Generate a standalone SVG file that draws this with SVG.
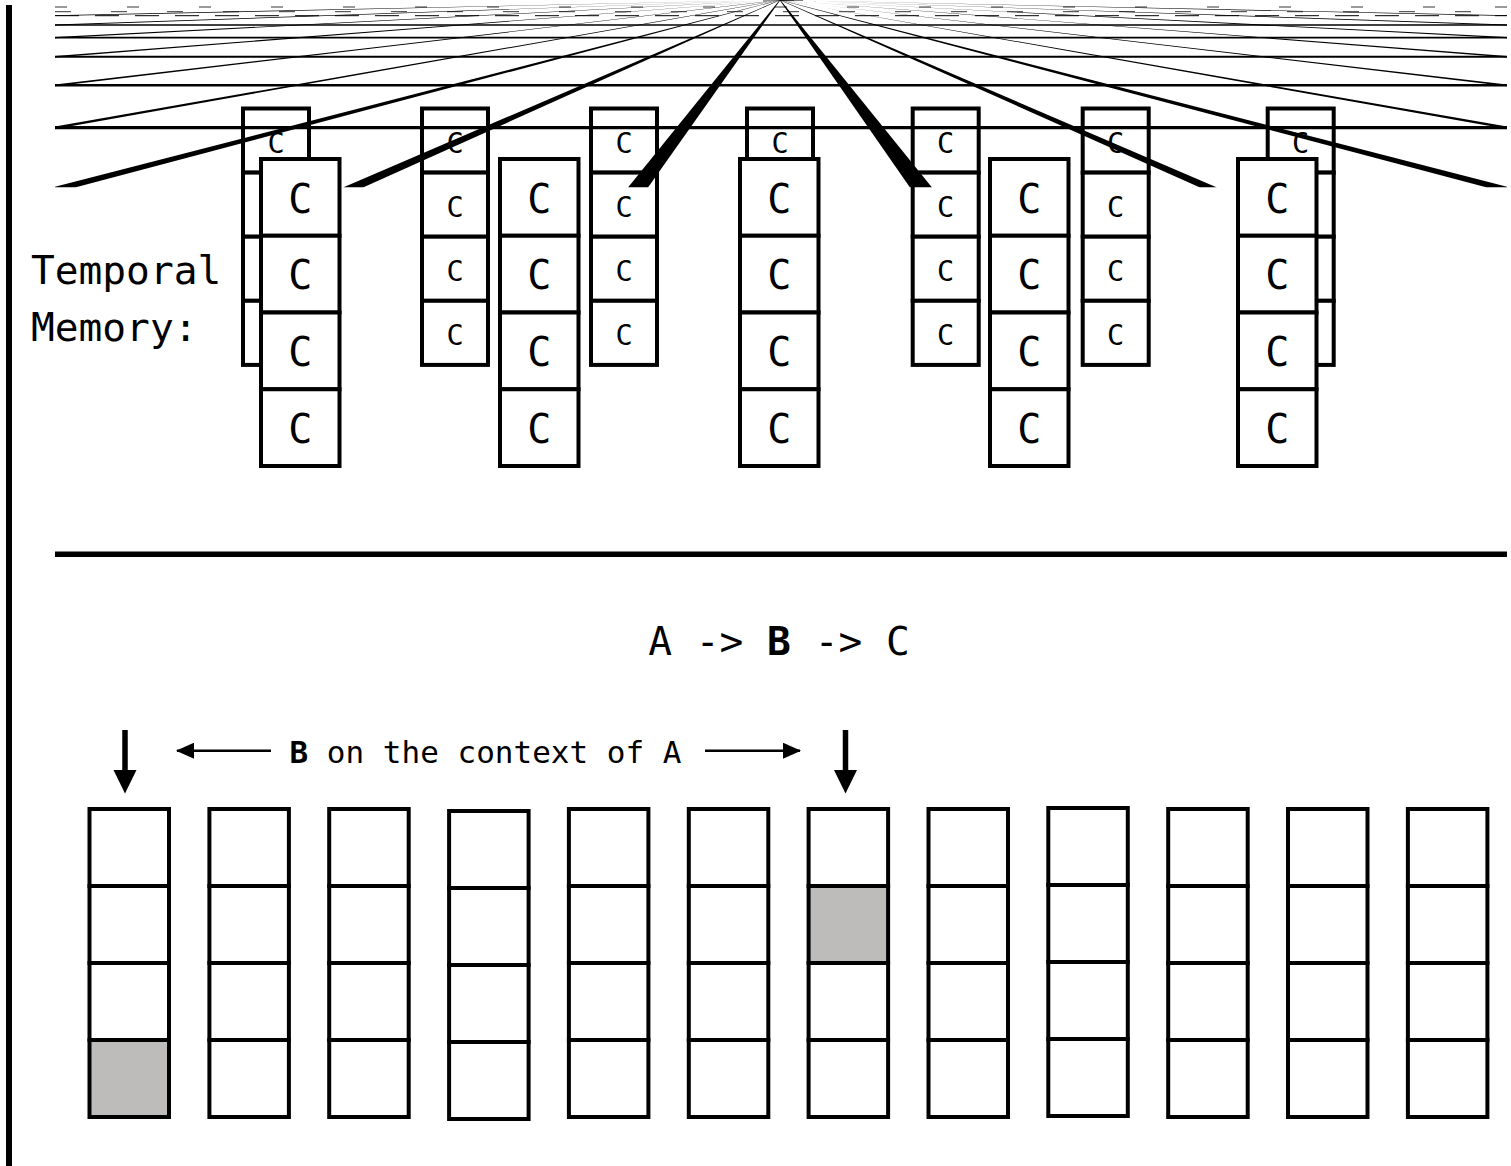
<svg xmlns="http://www.w3.org/2000/svg" width="1511" height="1166" viewBox="0 0 1511 1166">
<style>
.cell{fill:#fff;stroke:#000;stroke-width:4}
.on{fill:#bdbcba}
.t{font-family:"DejaVu Sans Mono","Liberation Mono",monospace;fill:#000}
.big{font-size:39.5px}
.mid{font-size:31px}
.cb{font-size:28.5px;text-anchor:middle}
.cf{font-size:40px;text-anchor:middle}
.hz{stroke:#000;fill:none}
.wedge{fill:#000;stroke:none}
.conn{stroke:#000;fill:none}
</style>
<defs>
<clipPath id="gridclip"><rect x="55" y="0" width="1452" height="187.5"/></clipPath>
<marker id="ah" viewBox="0 0 18 16" refX="17" refY="8" markerWidth="18" markerHeight="16" markerUnits="userSpaceOnUse" orient="auto"><path d="M0,0 L18,8 L0,16 z" fill="#000"/></marker>
</defs>
<rect width="1511" height="1166" fill="#fff"/>
<rect id="left-bar" x="6" y="5" width="6" height="1161" fill="#000"/>

<!-- back row of columns -->
<g id="back-col-1"><rect class="cell" x="243" y="108.5" width="66" height="64.1"/><rect class="cell" x="243" y="172.6" width="66" height="64.1"/><rect class="cell" x="243" y="236.7" width="66" height="64.1"/><rect class="cell" x="243" y="300.8" width="66" height="64.1"/>
<text class="t cb" x="276" y="152.5">C</text><text class="t cb" x="276" y="216.6">C</text><text class="t cb" x="276" y="280.7">C</text><text class="t cb" x="276" y="344.8">C</text></g>
<g id="back-col-2"><rect class="cell" x="422" y="108.5" width="66" height="64.1"/><rect class="cell" x="422" y="172.6" width="66" height="64.1"/><rect class="cell" x="422" y="236.7" width="66" height="64.1"/><rect class="cell" x="422" y="300.8" width="66" height="64.1"/>
<text class="t cb" x="455" y="152.5">C</text><text class="t cb" x="455" y="216.6">C</text><text class="t cb" x="455" y="280.7">C</text><text class="t cb" x="455" y="344.8">C</text></g>
<g id="back-col-3"><rect class="cell" x="591" y="108.5" width="66" height="64.1"/><rect class="cell" x="591" y="172.6" width="66" height="64.1"/><rect class="cell" x="591" y="236.7" width="66" height="64.1"/><rect class="cell" x="591" y="300.8" width="66" height="64.1"/>
<text class="t cb" x="624" y="152.5">C</text><text class="t cb" x="624" y="216.6">C</text><text class="t cb" x="624" y="280.7">C</text><text class="t cb" x="624" y="344.8">C</text></g>
<g id="back-col-4"><rect class="cell" x="747" y="108.5" width="66" height="64.1"/><rect class="cell" x="747" y="172.6" width="66" height="64.1"/><rect class="cell" x="747" y="236.7" width="66" height="64.1"/><rect class="cell" x="747" y="300.8" width="66" height="64.1"/>
<text class="t cb" x="780" y="152.5">C</text></g>
<g id="back-col-5"><rect class="cell" x="912.7" y="108.5" width="66" height="64.1"/><rect class="cell" x="912.7" y="172.6" width="66" height="64.1"/><rect class="cell" x="912.7" y="236.7" width="66" height="64.1"/><rect class="cell" x="912.7" y="300.8" width="66" height="64.1"/>
<text class="t cb" x="945.7" y="152.5">C</text><text class="t cb" x="945.7" y="216.6">C</text><text class="t cb" x="945.7" y="280.7">C</text><text class="t cb" x="945.7" y="344.8">C</text></g>
<g id="back-col-6"><rect class="cell" x="1082.7" y="108.5" width="66" height="64.1"/><rect class="cell" x="1082.7" y="172.6" width="66" height="64.1"/><rect class="cell" x="1082.7" y="236.7" width="66" height="64.1"/><rect class="cell" x="1082.7" y="300.8" width="66" height="64.1"/>
<text class="t cb" x="1115.7" y="152.5">C</text><text class="t cb" x="1115.7" y="216.6">C</text><text class="t cb" x="1115.7" y="280.7">C</text><text class="t cb" x="1115.7" y="344.8">C</text></g>
<g id="back-col-7"><rect class="cell" x="1267.7" y="108.5" width="66" height="64.1"/><rect class="cell" x="1267.7" y="172.6" width="66" height="64.1"/><rect class="cell" x="1267.7" y="236.7" width="66" height="64.1"/><rect class="cell" x="1267.7" y="300.8" width="66" height="64.1"/>
<text class="t cb" x="1300.7" y="152.5">C</text></g>

<!-- perspective grid -->
<g id="grid" clip-path="url(#gridclip)">
<line class="hz" x1="55" y1="7" x2="1507" y2="7" stroke="#e2e2e2" stroke-width="0.8" stroke-dasharray="12 60"/>
<line class="hz" x1="55" y1="11.7" x2="1507" y2="11.7" stroke="#cfcfcf" stroke-width="0.8" stroke-dasharray="16 40"/>
<line class="hz" x1="55" y1="15.7" x2="1507" y2="15.7" stroke="#8a8a8a" stroke-width="1" stroke-dasharray="24 16"/>
<line class="hz" x1="55" y1="25" x2="1507" y2="25" stroke-width="1.3"/>
<line class="hz" x1="55" y1="37.7" x2="1507" y2="37.7" stroke-width="1.7"/>
<line class="hz" x1="55" y1="56.7" x2="1507" y2="56.7" stroke-width="2.1"/>
<line class="hz" x1="55" y1="85.3" x2="1507" y2="85.3" stroke-width="2.6"/>
<line class="hz" x1="55" y1="127.7" x2="1507" y2="127.7" stroke-width="3.2"/>
<polygon class="wedge" points="779.6,0 780.4,0 55,16.1 55,15.3"/>
<polygon class="wedge" points="779.6,0 780.4,0 55,25.5 55,24.5"/>
<polygon class="wedge" points="779.6,0 780.4,0 55,38.3 55,37.1"/>
<polygon class="wedge" points="779.6,0 780.4,0 55,57.4 55,56"/>
<polygon class="wedge" points="779.6,0 780.4,0 55,86.2 55,84.4"/>
<polygon class="wedge" points="779.6,0 780.4,0 55,129 55,126.4"/>
<polygon class="wedge" points="779.6,0 780.4,0 75,187.5 52,187.5"/>
<polygon class="wedge" points="779.6,0 780.4,0 363,187.5 343,187.5"/>
<polygon class="wedge" points="779.6,0 780.4,0 648,187.5 628,187.5"/>
<polygon class="wedge" points="779.6,0 780.4,0 932,187.5 910,187.5"/>
<polygon class="wedge" points="779.6,0 780.4,0 1217,187.5 1200,187.5"/>
<polygon class="wedge" points="779.6,0 780.4,0 1510,187.5 1487,187.5"/>
<polygon class="wedge" points="779.6,0 780.4,0 1507,129 1507,126.4"/>
<polygon class="wedge" points="779.6,0 780.4,0 1507,86.2 1507,84.4"/>
<polygon class="wedge" points="779.6,0 780.4,0 1507,57.4 1507,56"/>
<polygon class="wedge" points="779.6,0 780.4,0 1507,38.3 1507,37.1"/>
<polygon class="wedge" points="779.6,0 780.4,0 1507,25.5 1507,24.5"/>
<polygon class="wedge" points="779.6,0 780.4,0 1507,16.1 1507,15.3"/>
</g>

<!-- front row of columns -->
<g id="front-col-1"><rect class="cell" x="261" y="159" width="78.5" height="76.75"/><rect class="cell" x="261" y="235.75" width="78.5" height="76.75"/><rect class="cell" x="261" y="312.5" width="78.5" height="76.75"/><rect class="cell" x="261" y="389.25" width="78.5" height="76.75"/>
<text class="t cf" x="300.25" y="212.5">C</text><text class="t cf" x="300.25" y="289.1">C</text><text class="t cf" x="300.25" y="365.9">C</text><text class="t cf" x="300.25" y="442.6">C</text></g>
<g id="front-col-2"><rect class="cell" x="500" y="159" width="78.5" height="76.75"/><rect class="cell" x="500" y="235.75" width="78.5" height="76.75"/><rect class="cell" x="500" y="312.5" width="78.5" height="76.75"/><rect class="cell" x="500" y="389.25" width="78.5" height="76.75"/>
<text class="t cf" x="539.25" y="212.5">C</text><text class="t cf" x="539.25" y="289.1">C</text><text class="t cf" x="539.25" y="365.9">C</text><text class="t cf" x="539.25" y="442.6">C</text></g>
<g id="front-col-3"><rect class="cell" x="740" y="159" width="78.5" height="76.75"/><rect class="cell" x="740" y="235.75" width="78.5" height="76.75"/><rect class="cell" x="740" y="312.5" width="78.5" height="76.75"/><rect class="cell" x="740" y="389.25" width="78.5" height="76.75"/>
<text class="t cf" x="779.25" y="212.5">C</text><text class="t cf" x="779.25" y="289.1">C</text><text class="t cf" x="779.25" y="365.9">C</text><text class="t cf" x="779.25" y="442.6">C</text></g>
<g id="front-col-4"><rect class="cell" x="990" y="159" width="78.5" height="76.75"/><rect class="cell" x="990" y="235.75" width="78.5" height="76.75"/><rect class="cell" x="990" y="312.5" width="78.5" height="76.75"/><rect class="cell" x="990" y="389.25" width="78.5" height="76.75"/>
<text class="t cf" x="1029.25" y="212.5">C</text><text class="t cf" x="1029.25" y="289.1">C</text><text class="t cf" x="1029.25" y="365.9">C</text><text class="t cf" x="1029.25" y="442.6">C</text></g>
<g id="front-col-5"><rect class="cell" x="1238" y="159" width="78.5" height="76.75"/><rect class="cell" x="1238" y="235.75" width="78.5" height="76.75"/><rect class="cell" x="1238" y="312.5" width="78.5" height="76.75"/><rect class="cell" x="1238" y="389.25" width="78.5" height="76.75"/>
<text class="t cf" x="1277.25" y="212.5">C</text><text class="t cf" x="1277.25" y="289.1">C</text><text class="t cf" x="1277.25" y="365.9">C</text><text class="t cf" x="1277.25" y="442.6">C</text></g>

<g id="label-tm"><text class="t big" x="31" y="283.5">Temporal</text><text class="t big" x="31" y="340.5">Memory:</text></g>

<rect id="divider" x="55" y="551.5" width="1452" height="5.5" fill="#000"/>

<g id="label-seq"><text class="t big" x="779" y="655" text-anchor="middle">A -&gt; <tspan font-weight="bold">B</tspan> -&gt; C</text></g>
<g id="label-context"><text class="t mid" x="485.5" y="763" text-anchor="middle"><tspan font-weight="bold">B</tspan> on the context of A</text></g>

<!-- connectors -->
<g id="connectors">
<line class="conn" x1="271" y1="750.7" x2="177" y2="750.7" stroke-width="2.5" marker-end="url(#ah)"/>
<line class="conn" x1="705" y1="750.7" x2="800" y2="750.7" stroke-width="2.5" marker-end="url(#ah)"/>
<line class="conn" x1="125" y1="730" x2="125" y2="772" stroke-width="5.5"/>
<polygon points="113.5,770 136.5,770 125,793.5" fill="#000"/>
<line class="conn" x1="845.5" y1="730" x2="845.5" y2="772" stroke-width="5.5"/>
<polygon points="834,770 857,770 845.5,793.5" fill="#000"/>
</g>

<!-- bottom row of columns -->
<g id="col-1"><rect class="cell" x="89.5" y="809" width="79.5" height="77"/><rect class="cell" x="89.5" y="886" width="79.5" height="77"/><rect class="cell" x="89.5" y="963" width="79.5" height="77"/><rect class="cell on" x="89.5" y="1040" width="79.5" height="77"/></g>
<g id="col-2"><rect class="cell" x="209.4" y="809" width="79.5" height="77"/><rect class="cell" x="209.4" y="886" width="79.5" height="77"/><rect class="cell" x="209.4" y="963" width="79.5" height="77"/><rect class="cell" x="209.4" y="1040" width="79.5" height="77"/></g>
<g id="col-3"><rect class="cell" x="329.2" y="809" width="79.5" height="77"/><rect class="cell" x="329.2" y="886" width="79.5" height="77"/><rect class="cell" x="329.2" y="963" width="79.5" height="77"/><rect class="cell" x="329.2" y="1040" width="79.5" height="77"/></g>
<g id="col-4"><rect class="cell" x="449.1" y="811" width="79.5" height="77"/><rect class="cell" x="449.1" y="888" width="79.5" height="77"/><rect class="cell" x="449.1" y="965" width="79.5" height="77"/><rect class="cell" x="449.1" y="1042" width="79.5" height="77"/></g>
<g id="col-5"><rect class="cell" x="568.9" y="809" width="79.5" height="77"/><rect class="cell" x="568.9" y="886" width="79.5" height="77"/><rect class="cell" x="568.9" y="963" width="79.5" height="77"/><rect class="cell" x="568.9" y="1040" width="79.5" height="77"/></g>
<g id="col-6"><rect class="cell" x="688.8" y="809" width="79.5" height="77"/><rect class="cell" x="688.8" y="886" width="79.5" height="77"/><rect class="cell" x="688.8" y="963" width="79.5" height="77"/><rect class="cell" x="688.8" y="1040" width="79.5" height="77"/></g>
<g id="col-7"><rect class="cell" x="808.6" y="809" width="79.5" height="77"/><rect class="cell on" x="808.6" y="886" width="79.5" height="77"/><rect class="cell" x="808.6" y="963" width="79.5" height="77"/><rect class="cell" x="808.6" y="1040" width="79.5" height="77"/></g>
<g id="col-8"><rect class="cell" x="928.5" y="809" width="79.5" height="77"/><rect class="cell" x="928.5" y="886" width="79.5" height="77"/><rect class="cell" x="928.5" y="963" width="79.5" height="77"/><rect class="cell" x="928.5" y="1040" width="79.5" height="77"/></g>
<g id="col-9"><rect class="cell" x="1048.3" y="808" width="79.5" height="77"/><rect class="cell" x="1048.3" y="885" width="79.5" height="77"/><rect class="cell" x="1048.3" y="962" width="79.5" height="77"/><rect class="cell" x="1048.3" y="1039" width="79.5" height="77"/></g>
<g id="col-10"><rect class="cell" x="1168.2" y="809" width="79.5" height="77"/><rect class="cell" x="1168.2" y="886" width="79.5" height="77"/><rect class="cell" x="1168.2" y="963" width="79.5" height="77"/><rect class="cell" x="1168.2" y="1040" width="79.5" height="77"/></g>
<g id="col-11"><rect class="cell" x="1288" y="809" width="79.5" height="77"/><rect class="cell" x="1288" y="886" width="79.5" height="77"/><rect class="cell" x="1288" y="963" width="79.5" height="77"/><rect class="cell" x="1288" y="1040" width="79.5" height="77"/></g>
<g id="col-12"><rect class="cell" x="1407.9" y="809" width="79.5" height="77"/><rect class="cell" x="1407.9" y="886" width="79.5" height="77"/><rect class="cell" x="1407.9" y="963" width="79.5" height="77"/><rect class="cell" x="1407.9" y="1040" width="79.5" height="77"/></g>
</svg>
